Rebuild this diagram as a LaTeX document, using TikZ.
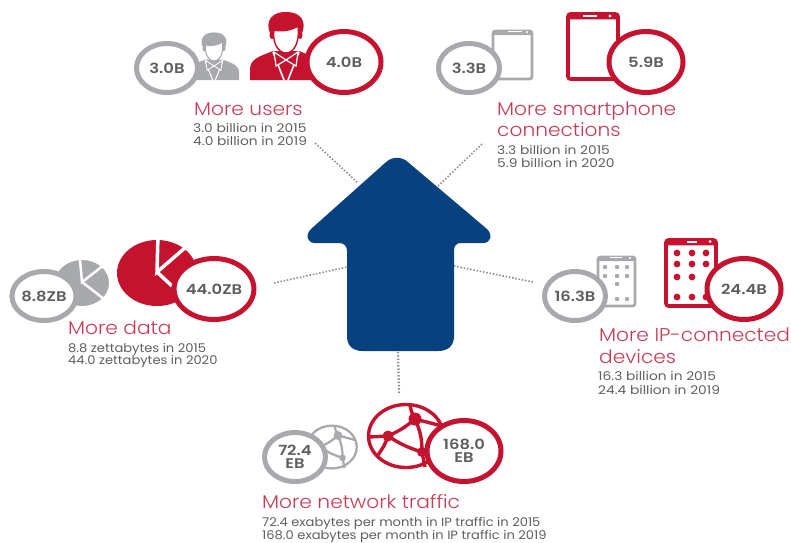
\documentclass[tikz,border=0pt]{standalone}
\usepackage{fontspec}
\setmainfont{Poppins}
\newfontfamily\headfont[FakeStretch=1.09]{Poppins Light}
\newfontfamily\ringfont[FakeStretch=1.17]{Poppins SemiBold}
\newfontfamily\smallfont[FakeStretch=1.09]{Poppins}
\newfontfamily\smallwide[FakeStretch=1.15]{Poppins}
\usetikzlibrary{shapes.geometric}
\definecolor{ired}{HTML}{C4122F}
\definecolor{igrey}{HTML}{A7A9AC}
\definecolor{inavy}{HTML}{08417F}
\definecolor{itext}{HTML}{5D5E60}
\definecolor{ihead}{HTML}{C93A55}
\tikzset{
  ringbase/.style={ellipse,fill=white,inner sep=0pt,outer sep=0pt,align=center,text=itext,font=\ringfont\fontsize{14}{12.5}\selectfont},
  ringgrey/.style={ringbase,draw=igrey,line width=5pt,minimum width=61pt,minimum height=49pt},
  ringred/.style={ringbase,draw=ired,line width=5pt,minimum width=74pt,minimum height=61pt},
  headtext/.style={anchor=base west,inner sep=0pt,text=ihead,font=\headfont\fontsize{18.5}{18.5}\selectfont},
  smalltext/.style={anchor=base west,inner sep=0pt,text=itext,font=\smallfont\fontsize{12}{12}\selectfont},
  smallwider/.style={smalltext,font=\smallwide\fontsize{12}{12}\selectfont},
  dotline/.style={draw=black!45,line width=1.6pt,dash pattern=on 1.5pt off 1.8pt},
}
\newcommand{\personicon}[4]{% x, y, scale, colour
\begin{scope}[shift={(#1,#2)},scale=#3]
  \fill[#4] (-36,0) -- (-36,-10) .. controls (-36,-21) and (-28,-23) .. (-13,-29) -- (13,-29) .. controls (28,-23) and (36,-21) .. (36,-10) -- (36,0) -- cycle;
  \draw[white,line width=1.6*#3 pt] (-13,-28) -- (-2,0) (13,-28) -- (2,0);
  \fill[#4,draw=white,line width=1.2*#3 pt] (0,-20) -- (-12,-28) -- (-10,-14) -- cycle;
  \fill[#4,draw=white,line width=1.2*#3 pt] (0,-20) -- (12,-28) -- (10,-14) -- cycle;
  \fill[#4] (-13,-42) .. controls (-21,-52) and (-20,-68) .. (0,-68) .. controls (20,-68) and (21,-52) .. (13,-42) -- cycle;
  \fill[#4] (-14,-45) ellipse [x radius=2.5,y radius=4] (14,-45) ellipse [x radius=2.5,y radius=4];
  \filldraw[fill=white,draw=#4,line width=1.4*#3 pt] (-12,-50) .. controls (-4,-48) and (6,-50) .. (12,-54) .. controls (14,-38) and (8,-27) .. (0,-27) .. controls (-8,-27) and (-14,-38) .. (-12,-50) -- cycle;
\end{scope}}
\newcommand{\phoneicon}[6]{% x1,y1,x2,y2,colour,width
  \draw[#5,line width=#6pt,rounded corners=2.5pt,fill=white] (#1,#2) rectangle (#3,#4);
  \fill[#5,rounded corners=1.5pt] (#1,#2) rectangle (#3,#2+#6*1.5);
}
\newcommand{\globeicon}[5]{% x,y,xscale,yscale,colour
\begin{scope}[shift={(#1,#2)},xscale=#3,yscale=#4,line width=3.4*#3 pt,#5]
  \draw (0,0) ellipse [x radius=37.5,y radius=31.5];
  \draw (9,-17) to[bend left=8] (-18,0) to[bend right=8] (16,16) to[bend right=12] (9,-17);
  \draw (9,-17) to[bend left=10] (4,-31) (9,-17) -- (36,-10) (-18,0) -- (-37,1) (-18,0) to[bend left=10] (-29,20) (16,16) -- (19,31);
  \fill (9,-17) ellipse [x radius=6.5,y radius=6.5];
  \fill (-18,0) ellipse [x radius=5.5,y radius=5.5];
  \fill (16,16) ellipse [x radius=5,y radius=5];
\end{scope}}
\begin{document}
\begin{tikzpicture}[x=1pt,y=-1pt]
\useasboundingbox (0,0) rectangle (791,542);
% connector ends on the arrow and free ends
\coordinate (usersend) at (315,143);
\coordinate (phoneend) at (482,144);
\coordinate (dataend) at (274,283);
\coordinate (devend) at (533,282);
\coordinate (netend) at (399,393);
\coordinate (arrowul) at (358,183);
\coordinate (arrowur) at (438,186);
\coordinate (arrowl) at (347,267);
\coordinate (arrowr) at (454,266);
\coordinate (arrowb) at (398,351);
\draw[dotline] (usersend) -- (arrowul);
\draw[dotline] (phoneend) -- (arrowur);
\draw[dotline] (dataend) -- (arrowl);
\draw[dotline] (devend) -- (arrowr);
\draw[dotline,line width=2.2pt] (netend) -- (arrowb);
% central arrow
\fill[inavy] (385,163) .. controls (392,156) and (402,156) .. (409,163) -- (487,229)
  .. controls (493,235) and (491,243) .. (483,243) -- (461,243)
  .. controls (456,243) and (454,246) .. (454,251) -- (454,336)
  .. controls (454,346) and (448,351) .. (438,351) -- (363,351)
  .. controls (353,351) and (347,346) .. (347,336) -- (347,251)
  .. controls (347,246) and (344,243) .. (339,243) -- (315,243)
  .. controls (307,243) and (305,235) .. (311,229) -- cycle;
% users
\personicon{214}{80}{0.7}{igrey}
\personicon{286}{80}{1}{ired}
\node[ringgrey] (u1) at (167,68) {3.0B};
\node[ringred] (u2) at (344,62) {4.0B};
\node[headtext] (uh) at (194,115) {More users};
\node[smallwider] (us1) at (193,132) {3.0 billion in 2015};
\node[smallwider] (us2) at (193,145) {4.0 billion in 2019};
% smartphones
\phoneicon{493}{31}{532}{79}{igrey}{2.8}
\fill[white] (508,31) rectangle (522,32);
\fill[white] (527,32) circle (1.1);
\phoneicon{568}{14}{618}{79}{ired}{3.6}
\fill[white] (583,15.2) rectangle (597,16.6);
\fill[white] (610,16) circle (1.6);
\node[ringgrey] (p1) at (469,68) {3.3B};
\node[ringred] (p2) at (646,62) {5.9B};
\node[headtext] (ph1) at (497,115) {More smartphone};
\node[headtext] (ph2) at (497,136) {connections};
\node[smallwider] (ps1) at (497,154) {3.3 billion in 2015};
\node[smallwider] (ps2) at (497,167) {5.9 billion in 2020};
% data
\coordinate (gpie) at (82,282);
\fill[igrey] (82,283) ellipse [x radius=27,y radius=23];
\draw[white,line width=2.5pt] (80,260) -- (gpie) -- (104,265) (gpie) -- (104,299);
\coordinate (rpie) at (157,272);
\fill[ired] (157,273) ellipse [x radius=40,y radius=33];
\draw[white,line width=3.5pt] (158,235) -- (rpie) -- (186,247) (rpie) -- (172,286);
\node[ringgrey] (d1) at (44,296) {8.8ZB};
\node[ringred] (d2) at (214,289) {44.0ZB};
\node[headtext] (dh) at (68,334) {More data};
\node[smalltext] (ds1) at (68,352) {8.8 zettabytes in 2015};
\node[smalltext] (ds2) at (68,364) {44.0 zettabytes in 2020};
% IP devices
\phoneicon{598}{257}{635}{306}{igrey}{2.8}
\fill[white] (610,257) rectangle (622,258);
\fill[white] (630,258) circle (1.1);
\foreach \px/\py in {605/267,617/267,627/267,605/276,617/276,627/276,617/284,617/299,627/299}
  \fill[igrey] (\px,\py) circle (2.2);
\phoneicon{666}{240}{716}{306}{ired}{3.6}
\fill[white] (687,241) rectangle (697,242.5);
\fill[white] (710,241.5) circle (1.5);
\foreach \px/\py in {677/253,692/253,706/253,677/264,692/264,706/264,677/277,692/277,677/297,692/297,706/297}
  \fill[ired] (\px,\py) circle (3.4);
\node[ringgrey] (i1) at (575,296) {16.3B};
\node[ringred] (i2) at (744,289) {24.4B};
\node[headtext] (ih1) at (599,341) {More IP-connected};
\node[headtext] (ih2) at (599,363) {devices};
\node[smallwider] (is1) at (598,380) {16.3 billion in 2015};
\node[smallwider] (is2) at (598,394) {24.4 billion in 2019};
% network
\globeicon{332}{447}{0.66}{0.68}{igrey}
\globeicon{406}{436}{1}{1}{ired}
\node[ringgrey] (n1) at (295,457) {72.4\\EB};
\node[ringred] (n2) at (464,451) {168.0\\EB};
\node[headtext] (nh) at (262,508) {More network traffic};
\node[smalltext] (ns1) at (262,526) {72.4 exabytes per month in IP traffic in 2015};
\node[smalltext] (ns2) at (262,539) {168.0 exabytes per month in IP traffic in 2019};
\end{tikzpicture}
\end{document}
